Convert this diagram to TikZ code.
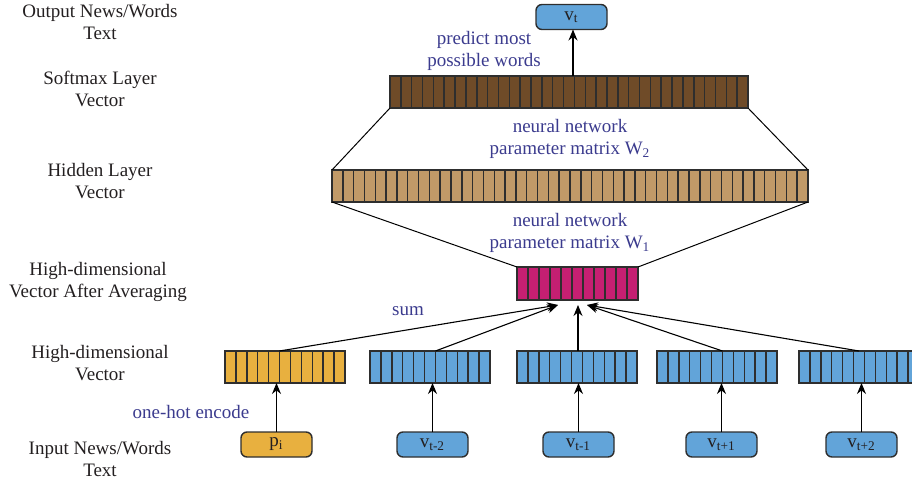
\documentclass[tikz,border=0pt]{standalone}
\usepackage{fontspec}
\setmainfont{Liberation Serif}
\usetikzlibrary{arrows.meta,calc}
\definecolor{lbl}{HTML}{3B3B8E}
\definecolor{txt}{HTML}{231F20}
\definecolor{brownc}{HTML}{6F4B28}
\definecolor{tanc}{HTML}{C19A68}
\definecolor{pinkc}{HTML}{C51F72}
\definecolor{yelc}{HTML}{E8B03F}
\definecolor{bluec}{HTML}{62A4D9}
\definecolor{edgec}{HTML}{2E2E2E}
\newcommand{\mycells}[2]{%
  \pgfmathtruncatemacro{\mylast}{#2-1}%
  \foreach \i in {1,...,\mylast}{%
    \draw[edgec,line width=0.75pt] ($(#1.north west)!\i/#2!(#1.north east)$) -- ($(#1.south west)!\i/#2!(#1.south east)$);}}
\begin{document}
\begin{tikzpicture}[x=0.5pt,y=-0.5pt,
  font=\fontsize{9.5}{11}\selectfont,
  bar/.style={draw=edgec,line width=0.75pt,inner sep=0pt,outer sep=0pt,minimum height=16pt},
  wbox/.style={draw=edgec,line width=0.7pt,rounded corners=3pt,inner sep=0pt,outer sep=0pt,minimum width=35.5pt,minimum height=12.5pt,text=txt},
  side/.style={align=center,text=txt,inner sep=0pt},
  note/.style={align=center,text=lbl,inner sep=0pt},
  conn/.style={black,line width=0.5pt},
  arr/.style={black,line width=0.55pt,-{Stealth[length=5.5pt,width=4.5pt]}}]
\useasboundingbox (0,0) rectangle (912,481);
% left labels
\node[side] (l1) at (100,22) {Output News/Words\\Text};
\node[side] (l2) at (100,89) {Softmax Layer\\Vector};
\node[side] (l3) at (100,181) {Hidden Layer\\Vector};
\node[side] (l4) at (98,282) {High-dimensional\\Vector After Averaging};
\node[side] (l5) at (100,363) {High-dimensional\\Vector};
\node[side] (l6) at (100,459) {Input News/Words\\Text};
% bars
\node[bar,fill=brownc,minimum width=179pt] (soft) at (569,92) {};
\mycells{soft}{33}
\node[bar,fill=tanc,minimum width=238pt] (hid) at (570,186) {};
\mycells{hid}{44}
\node[bar,fill=pinkc,minimum width=60.5pt,minimum height=16.5pt] (pink) at (577.5,283.5) {};
\mycells{pink}{11}
\node[bar,fill=yelc,minimum width=60pt] (b1) at (285,367) {};
\mycells{b1}{11}
\node[bar,fill=bluec,minimum width=60pt] (b2) at (430,367) {};
\mycells{b2}{11}
\node[bar,fill=bluec,minimum width=60pt] (b3) at (577,367) {};
\mycells{b3}{11}
\node[bar,fill=bluec,minimum width=60pt] (b4) at (717,367) {};
\mycells{b4}{11}
\node[bar,fill=bluec,minimum width=60pt] (b5) at (859,367) {};
\mycells{b5}{11}
% word boxes
\node[wbox,fill=bluec] (vt) at (571.5,17) {v\textsubscript{t}};
\node[wbox,fill=yelc] (pi) at (276.5,444.5) {p\textsubscript{i}};
\node[wbox,fill=bluec] (vm2) at (432.5,444.5) {v\textsubscript{t-2}};
\node[wbox,fill=bluec] (vm1) at (578.5,444.5) {v\textsubscript{t-1}};
\node[wbox,fill=bluec] (vp1) at (721.5,444.5) {v\textsubscript{t+1}};
\node[wbox,fill=bluec] (vp2) at (861.5,444.5) {v\textsubscript{t+2}};
% trapezoid lines
\draw[conn] (soft.south west) -- (hid.north west);
\draw[conn] (soft.south east) -- (hid.north east);
\draw[conn] (hid.south west) -- (pink.north west);
\draw[conn] (hid.south east) -- (pink.north east);
% output arrow
\draw[arr] (soft.north -| 573,0) -- (vt.south -| 573,0);
% input arrows
\foreach \w/\b in {pi/b1,vm2/b2,vm1/b3,vp1/b4,vp2/b5}{
  \draw[arr] (\w.north) -- (\w.north |- \b.south);}
% sum arrows
\coordinate (tl) at (558,305);
\coordinate (tc) at (578,305);
\coordinate (tr) at (587,305);
\draw[arr] ($(b1.north west)!0.4545!(b1.north east)$) -- (tl);
\draw[arr] ($(b2.north west)!0.5455!(b2.north east)$) -- (tl);
\draw[arr] (b3.north -| tc) -- (tc);
\draw[arr] ($(b4.north west)!0.5455!(b4.north east)$) -- (tr);
\draw[arr] ($(b5.north west)!0.5!(b5.north east)$) -- (tr);
% blue notes
\node[note] (n1) at (484,51) {predict most\\possible words};
\node[note] (n2) at (570,139) {neural network\\parameter matrix W\textsubscript{2}};
\node[note] (n3) at (570,233) {neural network\\parameter matrix W\textsubscript{1}};
\node[note] (n4) at (408,311) {sum};
\node[note] (n5) at (191,412) {one-hot encode};
\end{tikzpicture}
\end{document}
